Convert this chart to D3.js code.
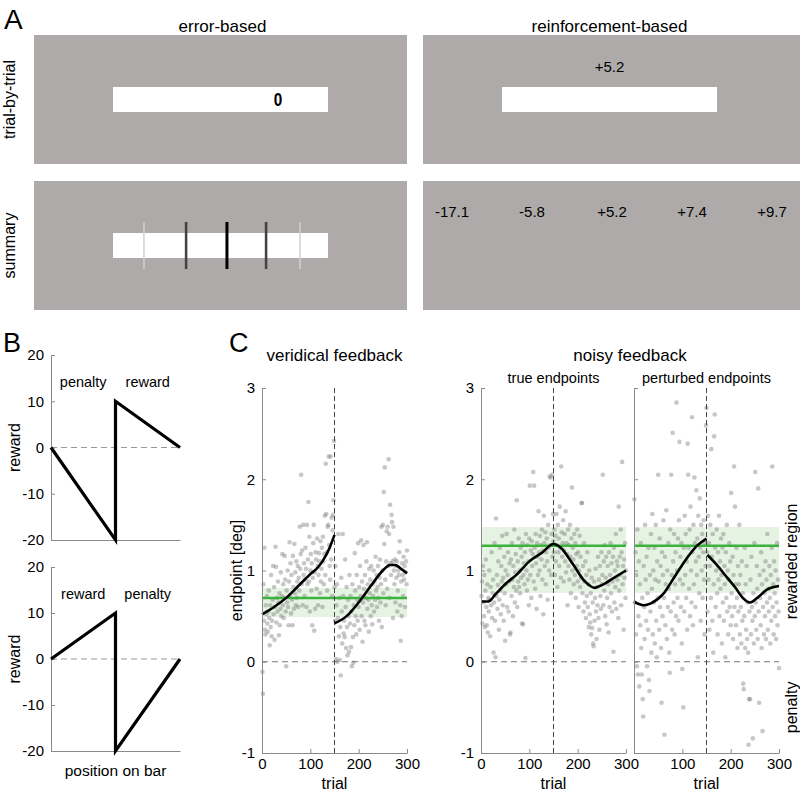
<!DOCTYPE html>
<html><head><meta charset="utf-8">
<script src="https://cdn.jsdelivr.net/npm/d3@7"></script>
<style>
body{margin:0;background:#fff}
text{font-family:"Liberation Sans",Arial,Helvetica,sans-serif;fill:#000}
</style>
</head><body>
<svg id="fig" width="800" height="797"></svg>
<script>
// ---------------- DATA ----------------
// Panel A
const feedbackTypes = ["error-based", "reinforcement-based"];
const displayModes = ["trial-by-trial", "summary"];
const trialCursorLabel = "0";
const trialCursorPos = 0.767;           // fraction along bar
const trialScoreLabel = "+5.2";
const summaryScores = ["-17.1", "-5.8", "+5.2", "+7.4", "+9.7"];
const summaryMarkPos = [0.144, 0.34, 0.53, 0.712, 0.87];   // fraction along bar
const summaryMarkWeight = [0.2, 0.75, 1, 0.75, 0.2];

// Panel B
const rewardTicks = [-20, -10, 0, 10, 20];
const rewardFnTop = [[0, 0], [0.5, -20], [0.5, 10], [1, 0]];
const rewardFnBottom = [[0, 0], [0.5, 10], [0.5, -20], [1, 0]];
const regionLabelsTop = ["penalty", "reward"];
const regionLabelsBottom = ["reward", "penalty"];

// Panel C
const trialTicks = [0, 100, 200, 300];
const endpointTicks = [-1, 0, 1, 2, 3];
const switchTrial = 150;
const veridicalTarget = 0.70, veridicalBand = [0.49, 0.81];
const noisyTarget = 1.27, noisyBand = [0.755, 1.476];

// veridical endpoints, trials 1..150 and 151..300
const veridicalPre = [
-0.11,-0.35,0.85,0.45,1.25,0.35,0.3,0.62,0.52,0.72, 0.42,0.33,0.55,0.78,0.48,0.18,0.62,0.38,0.95,0.28,
0.45,0.68,1.05,0.52,0.82,0.24,0.6,1.26,1.04,0.43, 0.7,0.55,0.88,0.65,0.29,0.75,0.4,0.58,0.98,0.5,
0.72,1.18,0.62,0.85,0.48,0.7,1.16,0.9,0.55,-0.05, 0.78,0.65,1.0,0.6,0.4,0.88,1.31,0.72,1.08,0.53,
0.95,0.68,0.4,1.16,0.82,0.58,1.29,0.75,0.98,0.62, 1.1,0.7,0.88,1.05,0.6,0.92,0.78,1.48,1.02,1.18,
2.05,0.85,1.22,0.62,1.5,0.95,1.08,0.72,0.9,1.25, 1.02,0.6,1.5,0.85,1.12,1.75,0.88,1.37,0.55,1.0,
1.18,0.78,1.08,0.4,0.92,1.3,1.5,0.34,0.98,0.58, 1.2,1.12,0.8,1.35,1.05,0.62,0.95,1.19,1.1,0.75,
1.32,0.88,1.02,1.25,0.6,1.37,1.1,0.85,1.18,1.6, 0.95,2.17,1.62,1.2,0.78,1.48,1.5,2.25,1.28,1.05,
0.9,2.25,1.12,1.58,0.72,1.44,1.61,1.77,2.42,0.82];
const veridicalPost = [
0.45,1.05,0.03,0.62,0.85,0.0,0.48,1.4,0.28,0.7, 0.02,0.38,-0.15,0.92,0.55,0.2,1.4,0.72,0.31,0.45,
0.27,1.12,0.6,0.15,0.82,0.38,0.07,0.68,0.5,0.11, 0.95,0.42,0.72,0.16,0.55,-0.05,0.85,0.27,-0.01,0.62,
0.4,1.19,0.78,0.5,0.3,0.95,0.68,0.45,1.3,0.6, 0.82,0.35,1.05,0.72,1.33,0.5,0.88,0.22,0.65,1.28,
0.8,0.45,0.95,0.4,0.7,1.1,1.31,0.58,0.85,0.68, 0.33,1.02,0.75,0.9,0.5,1.05,0.62,0.41,0.85,0.72,
1.0,0.55,0.88,0.68,1.15,0.78,0.95,0.6,0.82,1.05, 0.7,0.45,0.92,1.12,0.65,0.85,1.48,0.38,1.0,1.5,
0.75,1.86,1.29,2.13,0.9,0.62,1.1,1.43,0.8,1.48, 1.05,2.22,1.4,0.7,1.72,1.08,0.95,1.61,1.53,1.1,
0.48,1.48,1.0,0.85,1.12,0.65,1.05,0.92,1.1,0.55, 0.78,1.0,0.95,1.2,1.32,0.62,0.23,0.88,0.5,1.08,
0.95,0.72,1.15,0.9,1.05,0.6,0.98,1.1,0.85,1.22];
// noisy feedback, true endpoints, trials 1..300
const trueEndpoints = [
0.72,0.88,0.42,1.05,0.65,0.5,0.95,0.38,0.78,1.12, 0.6,0.4,0.85,0.32,0.7,0.55,1.0,0.68,0.28,0.82,
0.62,1.2,0.48,0.75,0.9,0.1,0.65,1.3,0.45,0.05, 1.57,0.72,0.95,0.58,0.84,1.1,0.35,0.68,1.25,0.78,
0.52,1.05,0.88,1.38,0.62,0.92,0.45,1.15,0.75,0.23, 1.0,0.85,1.4,0.6,0.95,1.2,0.55,0.88,1.08,0.3,
0.32,1.12,0.72,1.3,0.9,0.5,1.05,0.82,1.45,0.65, 0.98,1.18,0.78,1.77,0.6,1.1,0.88,1.35,0.82,1.0,
0.75,1.25,0.92,1.15,0.42,1.3,0.41,0.95,1.08,0.85, 1.2,0.04,1.4,1.0,0.78,1.28,0.9,1.1,0.62,1.35,
1.93,0.95,1.22,0.7,1.32,1.05,1.18,2.08,0.88,1.93, 1.25,0.8,1.4,1.08,0.58,1.3,1.15,0.95,1.65,1.2,
1.0,1.38,0.72,1.28,1.12,1.45,0.9,1.22,0.52,1.6, 1.3,1.05,1.42,0.85,1.2,1.35,1.1,0.68,1.5,1.25,
1.0,2.03,1.28,2.02,0.95,1.4,2.05,1.15,1.62,1.32, 1.2,1.45,0.95,1.38,1.1,1.62,1.28,0.82,1.5,1.2,
1.35,1.05,1.7,1.25,0.92,2.14,1.42,1.15,1.3,1.55, 0.88,1.22,1.4,1.1,1.65,0.98,1.3,1.18,0.62,1.45,
1.05,1.28,0.9,1.5,1.15,0.75,1.35,1.91,1.0,1.25, 1.12,0.85,1.4,0.95,1.3,0.7,1.18,1.05,1.45,0.88,
1.2,0.6,1.0,1.38,0.82,1.15,0.92,1.74,1.74,0.75, 1.05,0.55,1.3,0.88,0.65,1.1,0.48,0.95,0.72,1.2,
0.6,0.85,0.38,1.0,0.52,0.43,0.75,0.3,0.92,0.37, 0.65,0.2,0.17,0.88,0.45,0.7,1.02,0.55,0.25,0.82,
0.62,1.15,0.48,0.9,0.35,1.05,0.72,0.58,1.2,0.85, 0.95,2.05,0.62,1.1,0.78,1.28,0.5,0.92,1.15,0.41,
0.7,1.05,0.85,0.32,1.2,0.6,0.95,1.3,0.75,1.08, 0.55,0.88,1.15,0.11,1.25,0.65,1.0,0.82,1.4,0.58,
1.1,0.9,1.05,0.48,1.7,0.78,1.15,0.95,1.45,0.62, 1.2,2.19,0.85,1.05,0.35,1.12,0.92,1.3,0.7,1.0];
// noisy feedback, perturbed endpoints, trials 1..300
const perturbedEndpoints = [
1.78,0.65,1.2,0.3,0.95,-0.05,1.45,-0.14,0.5,1.1, -0.27,0.85,0.4,1.3,0.15,-0.14,0.7,-0.41,-0.6,1.05,
0.6,0.25,1.5,0.9,0.45,1.15,-0.05,0.75,0.35,1.25, -0.2,-0.32,0.95,0.55,1.4,0.1,0.8,1.62,0.3,1.0,
0.65,1.25,0.2,0.9,1.5,0.45,0.05,1.1,0.7,2.05, 0.88,0.35,1.35,0.6,1.05,0.15,-0.45,1.2,0.5,0.95,
1.55,0.7,-0.8,1.15,0.4,0.85,1.66,0.25,1.0,0.6, 1.3,0.8,0.1,-0.12,1.45,0.55,2.05,0.95,0.35,2.51,
1.1,0.65,1.4,0.3,0.85,1.2,0.5,2.84,1.0,0.7, 1.35,0.45,1.55,2.41,0.9,1.15,0.6,1.3,0.2,-0.08,
0.85,-0.5,1.25,0.55,1.6,0.95,1.4,0.7,1.1,0.35, 2.39,2.05,1.25,0.8,1.45,0.5,1.7,1.0,0.65,2.68,
1.2,0.4,1.5,0.85,2.02,1.3,0.6,1.1,1.88,0.95, 1.35,0.05,1.6,1.15,0.75,1.79,1.25,0.45,1.5,1.0,
1.4,0.7,1.2,1.55,0.9,0.3,1.3,1.05,2.59,2.78, 1.2,0.55,1.6,0.9,1.3,0.35,1.05,1.5,0.7,2.33,
1.15,0.45,1.4,0.1,0.85,2.47,2.71,1.25,0.6,1.0, 1.45,0.75,0.3,1.2,0.9,1.6,0.5,1.1,0.8,1.35,
0.95,0.2,1.25,0.65,1.4,0.45,1.05,0.85,0.05,1.2, 0.7,1.5,0.55,1.0,0.3,0.9,1.3,0.6,1.1,0.4,
1.85,0.75,0.5,1.15,0.25,0.95,2.14,0.6,1.7,0.85, 0.4,1.25,0.7,0.15,1.05,0.55,0.85,1.5,0.3,0.95,
0.6,0.2,1.1,0.45,0.75,-0.24,-0.3,0.5,1.25,0.15, 0.85,0.35,1.05,0.25,0.65,0.1,-0.91,-0.41,0.55,-0.41,
0.9,0.3,1.15,0.6,0.45,-0.84,0.75,0.2,1.3,0.5, 2.08,0.65,0.35,1.05,0.8,0.25,1.9,0.55,-0.45,0.95,
0.7,0.4,1.2,0.15,0.85,-0.76,0.6,1.0,0.3,0.75, 0.5,1.1,0.25,0.9,0.65,1.4,0.35,0.8,0.55,1.05,
0.7,0.2,0.95,0.45,1.25,2.14,0.6,0.85,0.3,1.1, 0.75,0.5,1.0,0.25,0.65,1.3,0.4,0.9,0.55,-0.07];

// smoothed fits [trial, endpoint]
const veridicalFitPre = [[0,0.52],[25,0.6],[50,0.7],[75,0.83],[100,0.96],[115,1.03],[125,1.1],[140,1.25],[150,1.39]];
const veridicalFitPost = [[150,0.42],[175,0.5],[200,0.65],[225,0.83],[250,1.0],[265,1.06],[275,1.06],[290,1.01],[300,0.97]];
const trueFit = [[0,0.66],[15,0.66],[30,0.74],[50,0.85],[75,0.96],[100,1.1],[125,1.19],[150,1.29],[165,1.25],[190,1.07],[215,0.88],[235,0.81],[250,0.84],[275,0.92],[300,1.0]];
const perturbedFitPre = [[0,0.66],[20,0.62],[35,0.64],[60,0.74],[85,0.94],[110,1.14],[130,1.27],[150,1.35]];
const perturbedFitPost = [[152,1.17],[170,1.07],[190,0.94],[210,0.81],[225,0.7],[240,0.65],[255,0.7],[275,0.79],[300,0.83]];

// ---------------- DRAW ----------------
const svg = d3.select("#fig");
svg.append("rect").attr("width", 800).attr("height", 797).attr("fill", "#fff");
const FONT = '"Liberation Sans",Arial,Helvetica,sans-serif';
const GREY_BG = "#adaaa9";
const AXIS_GREY = "#8a8a8a";
const fmt = d => String(d);

function label(g, txt, x, y, size, anchor, rot) {
  const t = g.append("text").attr("font-size", size).attr("text-anchor", anchor || "middle").text(txt);
  if (rot) t.attr("transform", `translate(${x},${y}) rotate(${rot})`);
  else t.attr("x", x).attr("y", y);
  return t;
}

// ---- Panel A ----
label(svg, "A", 4, 29, 28, "start");
const colX = d3.scaleBand().domain(feedbackTypes).range([34, 796]).paddingInner(16 / 389);
const rowY = d3.scaleBand().domain(displayModes).range([35, 310]).paddingInner(17 / 146);

feedbackTypes.forEach((ft, ci) => {
  label(svg, ft, colX(ft) + colX.bandwidth() / 2 + (ci === 0 ? 2 : 0), 32, 17);
});
displayModes.forEach(dm => {
  label(svg, dm, 15, rowY(dm) + rowY.bandwidth() / 2, 16, "middle", -90);
});

feedbackTypes.forEach((ft, ci) => {
  displayModes.forEach((dm, ri) => {
    const x0 = colX(ft), w = ci === 1 ? 800 - x0 : colX.bandwidth(), y0 = rowY(dm), h = rowY.bandwidth();
    const g = svg.append("g");
    g.append("rect").attr("x", x0).attr("y", y0).attr("width", w).attr("height", h).attr("fill", GREY_BG);
    const bx = d3.scaleLinear([0, 1], [x0 + 79, x0 + 294]);
    const barY = y0 + 52;
    if (!(ci === 1 && ri === 1)) {
      g.append("rect").attr("x", bx(0)).attr("y", barY).attr("width", bx(1) - bx(0)).attr("height", 25).attr("fill", "#fff");
    }
    if (ci === 0 && ri === 0) {
      label(g, trialCursorLabel, bx(trialCursorPos), barY + 19, 18).attr("font-weight", "bold")
        .attr("font-family", '"DejaVu Sans Mono",monospace').attr("transform", `translate(${bx(trialCursorPos)},${barY + 19}) scale(0.85,1) translate(${-bx(trialCursorPos)},${-(barY + 19)})`);
    }
    if (ci === 0 && ri === 1) {
      const shade = d3.scaleLinear([0.2, 1], ["#d2d2d2", "#000"]);
      const wid = d3.scaleLinear([0.2, 1], [1.5, 3]);
      summaryMarkPos.forEach((p, i) => {
        g.append("line").attr("x1", bx(p)).attr("x2", bx(p)).attr("y1", barY - 11).attr("y2", barY + 36)
          .attr("stroke", shade(summaryMarkWeight[i])).attr("stroke-width", wid(summaryMarkWeight[i]));
      });
    }
    if (ci === 1 && ri === 0) {
      label(g, trialScoreLabel, bx(0.5), y0 + 37, 15);
    }
    if (ci === 1 && ri === 1) {
      const sx = d3.scalePoint().domain(summaryScores).range([x0 + 29, x0 + 349]);
      summaryScores.forEach(s => label(g, s, sx(s), y0 + 36, 15));
    }
  });
});

// ---- Panel B ----
label(svg, "B", 3, 352, 27, "start");
const bx = d3.scaleLinear([0, 1], [51, 180]);
function rewardPlot(top, bottom, fn, regionLabels) {
  const y = d3.scaleLinear([-20, 20], [bottom, top]);
  const g = svg.append("g");
  g.append("line").attr("x1", bx(0)).attr("x2", bx(1)).attr("y1", y(0)).attr("y2", y(0))
    .attr("stroke", "#999").attr("stroke-dasharray", "6,4").attr("stroke-width", 1);
  const ax = g.append("g").attr("transform", `translate(${bx(0)},0)`)
    .call(d3.axisLeft(y).tickValues(rewardTicks).tickFormat(fmt).tickSizeInner(-4).tickSizeOuter(0).tickPadding(7));
  ax.selectAll("text").attr("font-size", 15).attr("font-family", FONT);
  ax.selectAll("path,line").attr("stroke", AXIS_GREY);
  const axb = g.append("g").attr("transform", `translate(0,${bottom})`)
    .call(d3.axisBottom(bx).tickValues([]).tickSizeOuter(0));
  axb.selectAll("path").attr("stroke", AXIS_GREY);
  g.append("path").datum(fn).attr("fill", "none").attr("stroke", "#000").attr("stroke-width", 3.2)
    .attr("stroke-linejoin", "miter")
    .attr("d", d3.line().x(d => bx(d[0])).y(d => y(d[1])));
  label(g, regionLabels[0], bx(0.25), y(14.2) + 5, 14.5);
  label(g, regionLabels[1], bx(0.75), y(14.2) + 5, 14.5);
  label(g, "reward", 20, (top + bottom) / 2, 16, "middle", -90);
}
rewardPlot(355, 540, rewardFnTop, regionLabelsTop);
rewardPlot(567, 751, rewardFnBottom, regionLabelsBottom);
label(svg, "position on bar", bx(0.5), 776, 15.5);

// ---- Panel C ----
label(svg, "C", 229, 352, 27, "start");
const cy = d3.scaleLinear([-1, 3], [753, 388]);
function endpointPanel(xLeft, xRight, pts, fits, target, band, showYLabels, hideFirstX) {
  const x = d3.scaleLinear([0, 300], [xLeft, xRight]);
  const g = svg.append("g");
  g.append("rect").attr("x", x(0)).attr("width", x(300) - x(0))
    .attr("y", cy(band[1])).attr("height", cy(band[0]) - cy(band[1])).attr("fill", "#e5f3e2");
  g.selectAll("circle.pt").data(pts).join("circle").attr("class", "pt")
    .attr("cx", d => x(d[0])).attr("cy", d => cy(d[1])).attr("r", 2.3)
    .attr("fill", "#7a7a7a").attr("fill-opacity", 0.42);
  g.append("line").attr("x1", x(0)).attr("x2", x(300)).attr("y1", cy(target)).attr("y2", cy(target))
    .attr("stroke", "#3cb33c").attr("stroke-width", 2.5);
  g.append("line").attr("x1", x(0)).attr("x2", x(300)).attr("y1", cy(0)).attr("y2", cy(0))
    .attr("stroke", "#777").attr("stroke-dasharray", "6,4").attr("stroke-width", 1);
  g.append("line").attr("x1", x(switchTrial)).attr("x2", x(switchTrial)).attr("y1", cy(3)).attr("y2", cy(-1))
    .attr("stroke", "#444").attr("stroke-dasharray", "5,3").attr("stroke-width", 1);
  const line = d3.line().x(d => x(d[0])).y(d => cy(d[1])).curve(d3.curveMonotoneX);
  fits.forEach(f => g.append("path").datum(f).attr("fill", "none").attr("stroke", "#000")
    .attr("stroke-width", 2.6).attr("d", line));
  const ay = g.append("g").attr("transform", `translate(${x(0)},0)`)
    .call(d3.axisLeft(cy).tickValues(endpointTicks).tickFormat(fmt).tickSizeInner(-4).tickSizeOuter(0).tickPadding(7));
  ay.selectAll("text").attr("font-size", 15).attr("font-family", FONT);
  if (!showYLabels) ay.selectAll("text").remove();
  ay.selectAll("path,line").attr("stroke", AXIS_GREY);
  const axx = g.append("g").attr("transform", `translate(0,${cy(-1)})`)
    .call(d3.axisBottom(x).tickValues(trialTicks).tickFormat(fmt).tickSizeInner(-4).tickSizeOuter(0).tickPadding(5));
  axx.selectAll("text").attr("font-size", 15).attr("font-family", FONT);
  if (hideFirstX) axx.selectAll("text").filter(d => d === 0).remove();
  axx.selectAll("path,line").attr("stroke", AXIS_GREY);
  label(g, "trial", (x(0) + x(300)) / 2, 789, 16);
  return x;
}
const toPts = (arr, start) => arr.map((v, i) => [start + i, v]);
const xv = endpointPanel(262, 407, toPts(veridicalPre, 1).concat(toPts(veridicalPost, 151)),
  [veridicalFitPre, veridicalFitPost], veridicalTarget, veridicalBand, true, false);
const xt = endpointPanel(481, 626, toPts(trueEndpoints, 1), [trueFit], noisyTarget, noisyBand, true, false);
const xp = endpointPanel(634, 779, toPts(perturbedEndpoints, 1), [perturbedFitPre, perturbedFitPost], noisyTarget, noisyBand, false, true);

label(svg, "veridical feedback", xv(150), 361, 17);
label(svg, "noisy feedback", (xt(300) + xp(0)) / 2, 361, 17);
label(svg, "true endpoints", xt(150), 383, 14.5);
label(svg, "perturbed endpoints", xp(150), 383, 14.5);
label(svg, "endpoint [deg]", 242, cy(1), 16, "middle", -90);
label(svg, "rewarded region", 797, cy(1.1), 16, "middle", -90);
label(svg, "penalty", 797, cy(-0.5), 16, "middle", -90);
</script>
</body></html>
